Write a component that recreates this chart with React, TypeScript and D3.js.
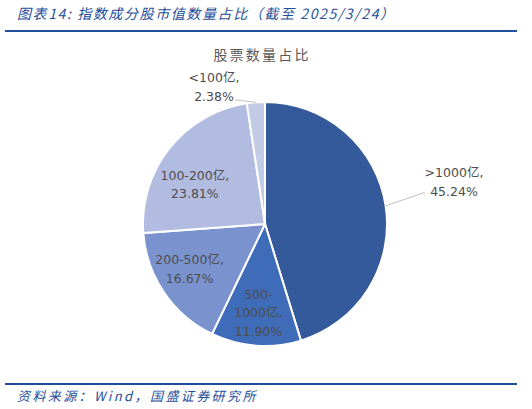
import React, { useEffect, useRef } from 'react';
import * as d3 from 'd3';

const categories = ['>1000亿', '500-1000亿', '200-500亿', '100-200亿', '<100亿'];
const shares = [45.24, 11.9, 16.67, 23.81, 2.38];
const colors = ['#345a9b', '#3f6cb9', '#7a93cf', '#b1bce0', '#c3cce6'];

const W = 532;
const H = 409;

const App: React.FC = () => {
  const svgRef = useRef<SVGSVGElement>(null);

  useEffect(() => {
    if (!svgRef.current) return;
    const svg = d3.select(svgRef.current);
    svg.selectAll('*').remove();

    const cjk = '"Noto Sans CJK SC", "DejaVu Sans", sans-serif';
    const labelFont = '"DejaVu Sans", "Noto Sans CJK SC", sans-serif';

    // header
    svg.append('text')
      .attr('x', 17).attr('y', 19)
      .attr('font-family', cjk).attr('font-size', 14).attr('font-style', 'italic')
      .attr('letter-spacing', 1.6)
      .attr('fill', '#1f4e9a')
      .text('图表14:  指数成分股市值数量占比（截至 2025/3/24）');
    svg.append('line')
      .attr('x1', 5).attr('x2', 517).attr('y1', 31).attr('y2', 31)
      .attr('stroke', '#1f4e9a').attr('stroke-width', 2);

    svg.append('text')
      .attr('x', 262).attr('y', 60)
      .attr('text-anchor', 'middle')
      .attr('font-family', cjk).attr('font-size', 14)
      .attr('letter-spacing', 2.2)
      .attr('fill', '#595959')
      .text('股票数量占比');

    // footer
    svg.append('line')
      .attr('x1', 5).attr('x2', 517).attr('y1', 384).attr('y2', 384)
      .attr('stroke', '#1f4e9a').attr('stroke-width', 2);
    svg.append('text')
      .attr('x', 17).attr('y', 401)
      .attr('font-family', cjk).attr('font-size', 13).attr('font-style', 'italic')
      .attr('letter-spacing', 2.4)
      .attr('fill', '#1f4e9a')
      .text('资料来源：Wind，国盛证券研究所');

    const cx = 265, cy = 224, r = 122;
    const data = categories.map((c, i) => ({ name: c, value: shares[i], color: colors[i] }));
    const pie = d3.pie<typeof data[0]>().value(d => d.value).sort(null);
    const arcs = pie(data);
    const arc = d3.arc<d3.PieArcDatum<typeof data[0]>>().innerRadius(0).outerRadius(r);

    const g = svg.append('g').attr('transform', `translate(${cx},${cy})`);
    g.selectAll('path')
      .data(arcs)
      .enter()
      .append('path')
      .attr('d', arc)
      .attr('fill', d => d.data.color)
      .attr('stroke', '#fff')
      .attr('stroke-width', 2);

    const pct = (v: number) => `${v.toFixed(2)}%`;

    // inside labels
    const insideLines: Record<string, string[]> = {
      '500-1000亿': ['500-', '1000亿,', pct(shares[1])],
      '200-500亿': ['200-500亿,', pct(shares[2])],
      '100-200亿': ['100-200亿,', pct(shares[3])],
    };
    const insideRadius: Record<string, number> = { '500-1000亿': 0.73, '200-500亿': 0.72, '100-200亿': 0.66 };
    arcs.forEach(a => {
      const lines = insideLines[a.data.name];
      if (!lines) return;
      const mid = (a.startAngle + a.endAngle) / 2 + (a.data.name === '100-200亿' ? -0.16 : a.data.name === '200-500亿' ? 0.06 : 0);
      const rr = r * insideRadius[a.data.name];
      const x = rr * Math.sin(mid);
      const y = -rr * Math.cos(mid);
      const t = g.append('text')
        .attr('text-anchor', 'middle')
        .attr('font-family', labelFont).attr('font-size', 12.5)
        .attr('fill', '#4d4d4d');
      lines.forEach((l, i) => {
        t.append('tspan')
          .attr('x', x)
          .attr('y', y + (i - (lines.length - 1) / 2) * 18.5 + 4.5)
          .text(l);
      });
    });

    // outside labels with leader lines
    const outside = [
      { idx: 0, elbow: [158, -31], label: [189, -52], lines: ['>1000亿,', pct(shares[0])] },
      { idx: 4, elbow: [-28, -124], label: [-51, -147], lines: ['<100亿,', pct(shares[4])] },
    ];
    outside.forEach(o => {
      const a = arcs[o.idx];
      const mid = (a.startAngle + a.endAngle) / 2;
      const sx = r * Math.sin(mid);
      const sy = -r * Math.cos(mid);
      g.append('polyline')
        .attr('points', `${sx},${sy} ${o.elbow[0]},${o.elbow[1]} ${o.idx === 0 ? o.elbow[0] + 2 : o.elbow[0] - 2},${o.elbow[1]}`)
        .attr('fill', 'none')
        .attr('stroke', '#bfbfbf')
        .attr('stroke-width', 1);
      const t = g.append('text')
        .attr('text-anchor', 'middle')
        .attr('font-family', labelFont).attr('font-size', 12.5)
        .attr('fill', '#4d4d4d');
      o.lines.forEach((l, i) => {
        t.append('tspan')
          .attr('x', o.label[0])
          .attr('y', o.label[1] + i * 19.5 + 4.5)
          .text(l);
      });
    });
  }, []);

  return (
    <div style={{ position: 'fixed', left: 0, top: 0, width: W, height: H, background: '#fff' }}>
      <svg ref={svgRef} width={W} height={H} />
    </div>
  );
};

export default App;
